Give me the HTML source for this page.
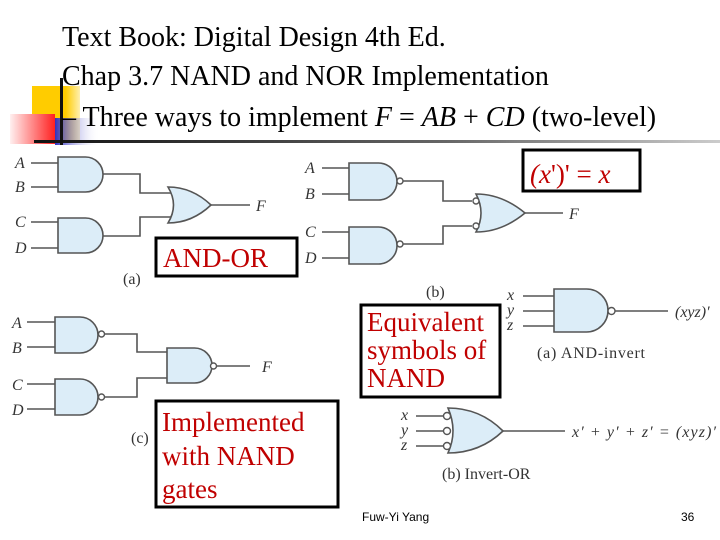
<!DOCTYPE html>
<html><head><meta charset="utf-8"><style>
html,body{margin:0;padding:0;background:#fff;width:720px;height:540px;overflow:hidden}
svg{display:block}
.t{font-family:"Liberation Serif",serif;font-size:28px;fill:#000}
.l{font-family:"Liberation Serif",serif;font-style:italic;font-size:16px;fill:#333}
.c{font-family:"Liberation Serif",serif;font-size:16px;fill:#333}
.r{font-family:"Liberation Serif",serif;font-size:27px;fill:#c00000}
.g{fill:#dcedf8;stroke:#555;stroke-width:1.6}
.w{stroke:#555;stroke-width:1.6;fill:none}
.b{fill:#fff;stroke:#555;stroke-width:1.4}
.box{fill:#fff;stroke:#000;stroke-width:3}
</style></head><body>
<svg width="720" height="540" viewBox="0 0 720 540">
<defs>
<linearGradient id="hl" x1="0" x2="1"><stop offset="0" stop-color="#111"/><stop offset="0.6" stop-color="#666"/><stop offset="1" stop-color="#ccc"/></linearGradient>
<linearGradient id="rd" x1="0" x2="1"><stop offset="0" stop-color="#fff0f0"/><stop offset="1" stop-color="#ff2020"/></linearGradient>
<linearGradient id="bl" x1="0" x2="1"><stop offset="0" stop-color="#3030c0"/><stop offset="1" stop-color="#fff" stop-opacity="0"/></linearGradient>
<linearGradient id="yl" x1="0" x2="1"><stop offset="0" stop-color="#ffcc00"/><stop offset="0.7" stop-color="#ffcc00"/><stop offset="1" stop-color="#fff0b0"/></linearGradient>
</defs>
<rect x="32" y="86" width="48" height="56" fill="url(#yl)"/>
<rect x="10" y="114" width="45" height="30" fill="url(#rd)"/>
<rect x="55" y="118" width="45" height="27" fill="url(#bl)"/>
<rect x="34" y="140" width="686" height="3" fill="url(#hl)"/>
<rect x="60" y="78" width="3" height="67" fill="#111"/>
<text class="t" x="62" y="46">Text Book: Digital Design 4th Ed.</text>
<text class="t" x="62" y="85">Chap 3.7 NAND and NOR Implementation</text>
<text class="t" x="62" y="126">– Three ways to implement <tspan font-style="italic">F</tspan> = <tspan font-style="italic">AB</tspan> + <tspan font-style="italic">CD</tspan> (two-level)</text>

<path class="w" d="M31,163H58M31,187H58M31,222H58M31,248H58M103,174H140V193H172M103,236H140V217H172M211,205H250"/>
<path class="g" d="M58,157h27.5a17.5,17.5 0 0 1 0,35h-27.5z"/>
<path class="g" d="M58,218h27.5a17.5,17.5 0 0 1 0,35h-27.5z"/>
<path class="g" d="M168,187Q192,187 211,205Q192,223 168,223Q179,205 168,187z"/>
<text class="l" x="15" y="168">A</text><text class="l" x="15" y="192">B</text>
<text class="l" x="15" y="227">C</text><text class="l" x="15" y="253">D</text>
<text class="l" x="256" y="211">F</text>
<text class="c" x="123" y="284">(a)</text>

<path class="w" d="M322,168H349M322,194H349M322,232H349M322,258H349M403,181H443V201H472M403,244H443V226H472M525,213H563"/>
<path class="g" d="M349,163h29.5a18.5,18.5 0 0 1 0,37h-29.5z"/>
<path class="g" d="M349,227h29.5a18.5,18.5 0 0 1 0,37h-29.5z"/>
<circle class="b" cx="400" cy="181" r="3"/><circle class="b" cx="400" cy="244" r="3"/>
<path class="g" d="M476,194Q502,194 525,213Q502,232 476,232Q486,213 476,194z"/>
<circle class="b" cx="476" cy="201" r="3"/><circle class="b" cx="476" cy="226" r="3"/>
<text class="l" x="305" y="173">A</text><text class="l" x="305" y="199">B</text>
<text class="l" x="305" y="237">C</text><text class="l" x="305" y="263">D</text>
<text class="l" x="569" y="219">F</text>
<text class="c" x="426" y="297">(b)</text>

<path class="w" d="M27,322H55M27,347H55M27,384H55M27,409H55M104,334H137V352H167M104,397H137V378H167M216,366H250"/>
<path class="g" d="M55,317h25a18,18 0 0 1 0,36h-25z"/>
<path class="g" d="M55,379h25a18,18 0 0 1 0,36h-25z"/>
<path class="g" d="M167,348h27.5a17.5,17.5 0 0 1 0,35h-27.5z"/>
<circle class="b" cx="101.5" cy="334" r="3"/><circle class="b" cx="101.5" cy="397" r="3"/><circle class="b" cx="213.5" cy="366" r="3"/>
<text class="l" x="12" y="328">A</text><text class="l" x="12" y="353">B</text>
<text class="l" x="12" y="390">C</text><text class="l" x="12" y="415">D</text>
<text class="l" x="262" y="372">F</text>
<text class="c" x="131" y="443">(c)</text>

<path class="w" d="M523,296H554M523,311H554M523,326H554M615,311H668"/>
<path class="g" d="M554,289h32.5a21.5,21.5 0 0 1 0,43h-32.5z"/>
<circle class="b" cx="611.5" cy="311" r="3.5"/>
<text class="l" x="507" y="300">x</text><text class="l" x="507" y="315">y</text><text class="l" x="507" y="330">z</text>
<text class="l" x="675" y="317" font-size="17">(xyz)′</text>
<text class="c" x="537" y="358" font-size="18" textLength="108">(a) AND-invert</text>
<path class="w" d="M416,416H446M416,431H446M416,446H446M503,431H565"/>
<path class="g" d="M448,408Q480,408 503,431Q480,453 448,453Q458,431 448,408z"/>
<circle class="b" cx="447" cy="416" r="3.5"/><circle class="b" cx="447" cy="431" r="3.5"/><circle class="b" cx="447" cy="446" r="3.5"/>
<text class="l" x="401" y="420">x</text><text class="l" x="401" y="435">y</text><text class="l" x="401" y="450">z</text>
<text class="l" x="572" y="437" font-size="18" textLength="144">x′ + y′ + z′ = (xyz)′</text>
<text class="c" x="442" y="479" font-size="18">(b) Invert-OR</text>

<rect class="box" x="523" y="150" width="117" height="41"/>
<text class="r" x="530" y="183"><tspan font-style="italic">(x</tspan>')' = <tspan font-style="italic">x</tspan></text>
<rect class="box" x="156" y="238" width="141" height="38"/>
<text class="r" x="163" y="267">AND-OR</text>
<rect class="box" x="361" y="305" width="139" height="92"/>
<text class="r" x="367" y="331" font-size="21">Equivalent</text>
<text class="r" x="367" y="359" font-size="21">symbols of</text>
<text class="r" x="367" y="387" font-size="21">NAND</text>
<rect class="box" x="156" y="401" width="182" height="106"/>
<text class="r" x="162" y="431" font-size="28">Implemented</text>
<text class="r" x="162" y="465" font-size="28">with NAND</text>
<text class="r" x="162" y="498" font-size="28">gates</text>

<text x="362" y="521" font-family="Liberation Sans,sans-serif" font-size="12" fill="#000">Fuw-Yi Yang</text>
<text x="681" y="521" font-family="Liberation Sans,sans-serif" font-size="12" fill="#000">36</text>
</svg>
</body></html>
